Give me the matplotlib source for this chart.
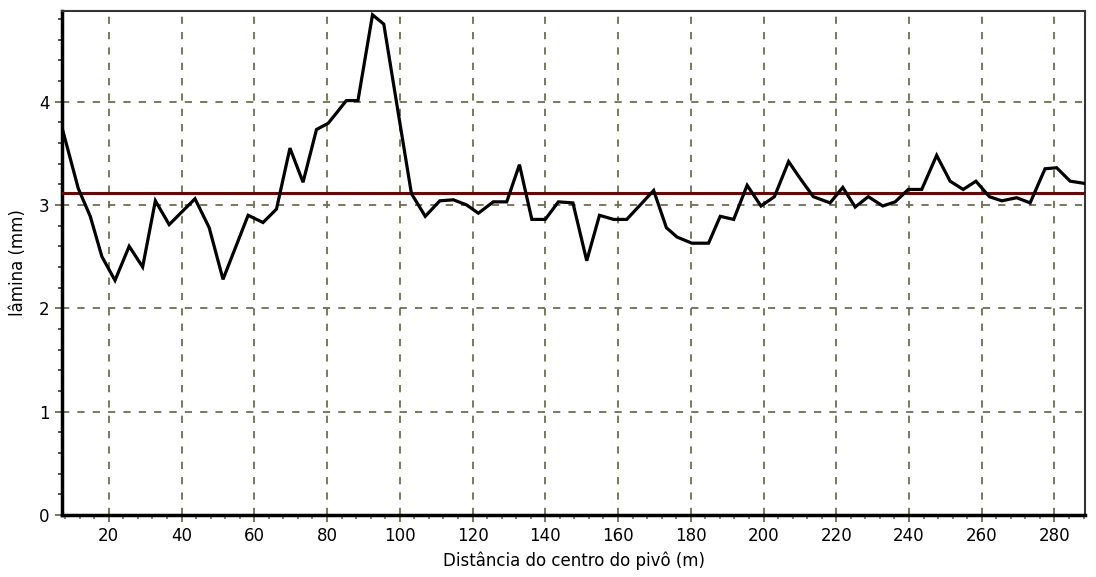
import matplotlib.pyplot as plt
from matplotlib.ticker import MultipleLocator

# distância do centro do pivô (m) e lâmina coletada (mm)
distancia = [7.2, 11.6, 14.9, 18.1, 21.7, 25.6, 29.3, 32.8, 36.6, 43.7,
             47.6, 51.4, 58.3, 62.4, 66.1, 69.8, 73.4, 77.1, 80.3, 82.6,
             85.3, 88.5, 92.5, 95.6, 99.3, 103.2, 107.0, 111.0, 114.7, 118.4,
             121.6, 125.7, 129.4, 132.9, 136.3, 140.0, 143.6, 147.6, 151.4, 154.9,
             158.8, 162.4, 169.8, 173.3, 176.2, 180.3, 184.9, 188.1, 191.8, 195.5,
             199.3, 203.0, 206.9, 210.0, 213.7, 218.3, 221.8, 225.2, 228.8, 232.8,
             236.2, 239.8, 243.5, 247.6, 251.3, 254.9, 258.4, 262.1, 265.5, 269.6,
             273.3, 277.4, 280.6, 284.3, 288.0]
lamina = [3.74, 3.16, 2.89, 2.50, 2.27, 2.60, 2.40, 3.04, 2.81, 3.06,
          2.78, 2.28, 2.90, 2.83, 2.96, 3.55, 3.22, 3.73, 3.79, 3.89,
          4.01, 4.01, 4.84, 4.75, 3.95, 3.11, 2.89, 3.04, 3.05, 3.00,
          2.92, 3.03, 3.03, 3.39, 2.86, 2.86, 3.03, 3.02, 2.46, 2.90,
          2.86, 2.86, 3.14, 2.78, 2.69, 2.63, 2.63, 2.89, 2.86, 3.19,
          2.99, 3.08, 3.42, 3.26, 3.08, 3.02, 3.17, 2.98, 3.08, 2.99,
          3.03, 3.15, 3.15, 3.48, 3.23, 3.15, 3.23, 3.08, 3.04, 3.07,
          3.02, 3.35, 3.36, 3.23, 3.21]
lamina_media = 3.12

grid_color = '#6e6e50'

plt.rcParams['font.family'] = ['DejaVu Sans']

fig = plt.figure(figsize=(10.96, 5.77), dpi=100)
ax = fig.add_axes([0.0568, 0.1075, 0.9332, 0.874])

ax.plot(distancia, lamina, color='black', lw=2.3, solid_joinstyle='miter', zorder=4)
ax.axhline(lamina_media, color='#7a0000', lw=2.2, zorder=3)

ax.set_xlim(7.2, 288.4)
ax.set_ylim(0, 4.88)
ax.xaxis.set_major_locator(MultipleLocator(20))
ax.xaxis.set_minor_locator(MultipleLocator(4))
ax.yaxis.set_major_locator(MultipleLocator(1))
ax.yaxis.set_minor_locator(MultipleLocator(0.2))

ax.grid(True, which='major', color=grid_color, ls=(0, (4, 4.5)), lw=1.3, zorder=1)

ax.tick_params(axis='x', which='major', length=5, width=1.3, color=grid_color,
               labelsize=12, pad=4)
ax.tick_params(axis='x', which='minor', length=3, width=1.2, color=grid_color)
ax.tick_params(axis='y', which='major', length=5, width=1.3, color=grid_color,
               labelsize=12, pad=4)
ax.tick_params(axis='y', which='minor', length=3, width=1.2, color='#333333')

for side in ['left', 'bottom']:
    ax.spines[side].set_linewidth(2.5)
    ax.spines[side].set_color('black')
for side in ['top', 'right']:
    ax.spines[side].set_linewidth(1.5)
    ax.spines[side].set_color('#333333')

ax.set_xlabel('Distância do centro do pivô (m)', fontsize=12, labelpad=4)
ax.set_ylabel('lâmina (mm)', fontsize=12, labelpad=9)

fig.savefig('out.png', dpi=100)
